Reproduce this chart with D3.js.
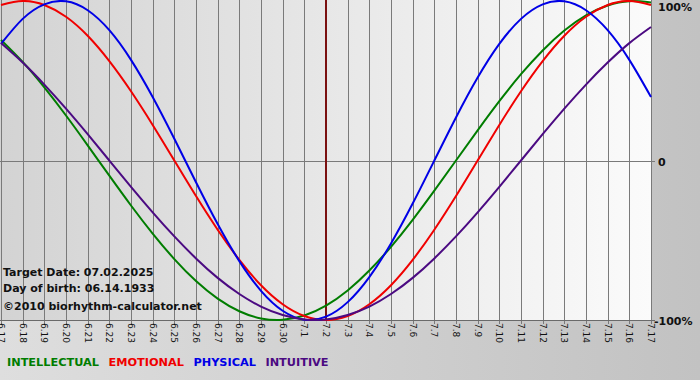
<!DOCTYPE html>
<html>
<head>
<meta charset="utf-8">
<script src="https://cdn.jsdelivr.net/npm/d3@7"></script>
<style>
  body { margin: 0; padding: 0; }
  svg { display: block; }
</style>
</head>
<body>
<svg id="chart" width="700" height="380"></svg>
<script>
// biorhythm chart, 6.17 - 7.17

var dates = ['6.17', '6.18', '6.19', '6.20', '6.21', '6.22', '6.23', '6.24', '6.25', '6.26',
  '6.27', '6.28', '6.29', '6.30', '7.1', '7.2', '7.3', '7.4', '7.5', '7.6', '7.7', '7.8',
  '7.9', '7.10', '7.11', '7.12', '7.13', '7.14', '7.15', '7.16', '7.17'];

// percent, one value per day
var intellectual = [75.6, 61.8, 45.8, 28.2, 9.5, -9.5, -28.2, -45.8, -61.8, -75.6, -86.6,
  -94.5, -99.0, -99.9, -97.2, -91.0, -81.5, -69.0, -54.1, -37.2, -18.9, 0, 18.9, 37.2, 54.1,
  69.0, 81.5, 91.0, 97.2, 99.9, 99.0];
var emotional = [97.5, 100, 97.5, 90.1, 78.2, 62.3, 43.4, 22.3, 0, -22.3, -43.4, -62.3,
  -78.2, -90.1, -97.5, -100, -97.5, -90.1, -78.2, -62.3, -43.4, -22.3, 0, 22.3, 43.4, 62.3,
  78.2, 90.1, 97.5, 100, 97.5];
var physical = [73.1, 88.8, 97.9, 99.8, 94.2, 81.7, 63.1, 39.8, 13.6, -13.6, -39.8, -63.1,
  -81.7, -94.2, -99.8, -97.9, -88.8, -73.1, -52.0, -27.0, 0, 27.0, 52.0, 73.1, 88.8, 97.9,
  99.8, 94.2, 81.7, 63.1, 39.8];
var intuitive = [73.6, 61.4, 47.6, 32.5, 16.5, 0, -16.5, -32.5, -47.6, -61.4, -73.6, -83.7,
  -91.6, -96.9, -99.7, -99.7, -96.9, -91.6, -83.7, -73.6, -61.4, -47.6, -32.5, -16.5, 0,
  16.5, 32.5, 47.6, 61.4, 73.6, 83.7];

var targetDay = '7.2';
var yTicks = [100, 0, -100];
var yTickLabels = ['100%', '0', '-100%'];
var infoLines = ['Target Date: 07.02.2025', 'Day of birth: 06.14.1933'];
var credit = '\u00a92010 biorhythm-calculator.net';

var series = [
  { name: 'INTELLECTUAL', color: '#007d00', values: intellectual },
  { name: 'EMOTIONAL', color: '#f00000', values: emotional },
  { name: 'PHYSICAL', color: '#0000e6', values: physical },
  { name: 'INTUITIVE', color: '#4b0a82', values: intuitive }
];

var W = 700, H = 380,
  PLOT_L = 1, PLOT_R = 651, PLOT_T = 1, PLOT_B = 320,
  FONT = 'Verdana, "DejaVu Sans", sans-serif';

var svg = d3.select('#chart');
var defs = svg.append('defs');

var bgGrad = defs.append('linearGradient').attr('id', 'bgGrad')
  .attr('x1', 0).attr('x2', 1).attr('y1', 0).attr('y2', 0);
bgGrad.append('stop').attr('offset', 0).attr('stop-color', '#dedede');
bgGrad.append('stop').attr('offset', 1).attr('stop-color', '#c2c2c2');

var plotGrad = defs.append('linearGradient').attr('id', 'plotGrad')
  .attr('x1', 0).attr('x2', 1).attr('y1', 0).attr('y2', 0);
plotGrad.append('stop').attr('offset', 0).attr('stop-color', '#d3d3d3');
plotGrad.append('stop').attr('offset', 1).attr('stop-color', '#fbfbfb');

svg.append('rect').attr('width', W).attr('height', H).attr('fill', 'url(#bgGrad)');

var x = d3.scalePoint().domain(dates).range([PLOT_L, PLOT_R]);
var y = d3.scaleLinear().domain([-100, 100]).range([PLOT_B, PLOT_T]);

svg.append('rect')
  .attr('x', 0).attr('y', 0)
  .attr('width', PLOT_R).attr('height', PLOT_B)
  .attr('fill', 'url(#plotGrad)');

// vertical grid, one per day
svg.append('g')
  .selectAll('line')
  .data(dates)
  .enter()
  .append('line')
  .attr('x1', function(d) { return Math.round(x(d)) + 0.5; })
  .attr('x2', function(d) { return Math.round(x(d)) + 0.5; })
  .attr('y1', 0)
  .attr('y2', PLOT_B + 4)
  .attr('stroke', '#7a7a7a')
  .attr('stroke-width', 1);

// zero line and bottom line, with small ticks on the right
svg.append('line')
  .attr('x1', 0).attr('x2', PLOT_R + 4)
  .attr('y1', Math.round(y(0)) + 0.5).attr('y2', Math.round(y(0)) + 0.5)
  .attr('stroke', '#7a7a7a');
svg.append('line')
  .attr('x1', 0).attr('x2', PLOT_R + 4)
  .attr('y1', PLOT_B + 0.5).attr('y2', PLOT_B + 0.5)
  .attr('stroke', '#6a6a6a');

// target day marker
svg.append('line')
  .attr('x1', x(targetDay)).attr('x2', x(targetDay))
  .attr('y1', 0).attr('y2', PLOT_B)
  .attr('stroke', '#7a1010')
  .attr('stroke-width', 2);

var line = d3.line()
  .x(function(d, i) { return x(dates[i]); })
  .y(function(d) { return y(d); })
  .curve(d3.curveNatural);

svg.append('g')
  .selectAll('path')
  .data(series)
  .enter()
  .append('path')
  .attr('d', function(s) { return line(s.values); })
  .attr('fill', 'none')
  .attr('stroke', function(s) { return s.color; })
  .attr('stroke-width', 2);

// right axis labels
svg.append('g')
  .selectAll('text')
  .data(yTicks)
  .enter()
  .append('text')
  .attr('x', function(d, i) { return d < 0 ? 654 : 658; })
  .attr('y', function(d) { return d === 100 ? 11 : y(d) + 5; })
  .style('font-family', FONT)
  .style('font-size', '11px')
  .style('font-weight', 'bold')
  .attr('fill', '#111')
  .text(function(d, i) { return yTickLabels[i]; });

// x tick labels, rotated
svg.append('g')
  .selectAll('text')
  .data(dates)
  .enter()
  .append('text')
  .attr('transform', function(d) {
    return 'translate(' + (x(d) - 3) + ',' + (PLOT_B + 3) + ') rotate(90)';
  })
  .style('font-family', FONT)
  .style('font-size', '9px')
  .attr('fill', '#111')
  .text(function(d) { return d; });

// info text
svg.append('g')
  .selectAll('text')
  .data(infoLines)
  .enter()
  .append('text')
  .attr('x', 3)
  .attr('y', function(d, i) { return 276 + i * 16; })
  .style('font-family', FONT)
  .style('font-size', '11px')
  .style('font-weight', 'bold')
  .attr('fill', '#111')
  .text(function(d) { return d; });

svg.append('text')
  .attr('x', 3).attr('y', 310)
  .style('font-family', FONT)
  .style('font-size', '11px')
  .style('font-weight', 'bold')
  .attr('fill', '#111')
  .text(credit);

// legend, items laid out one after another
var legendX = 7;
svg.append('g')
  .selectAll('text')
  .data(series)
  .enter()
  .append('text')
  .attr('y', 366)
  .style('font-family', FONT)
  .style('font-size', '11.3px')
  .style('font-weight', 'bold')
  .attr('fill', function(s) { return s.color; })
  .text(function(s) { return s.name; })
  .each(function() {
    d3.select(this).attr('x', legendX);
    legendX += this.getComputedTextLength() + 9.5;
  });
</script>
</body>
</html>
